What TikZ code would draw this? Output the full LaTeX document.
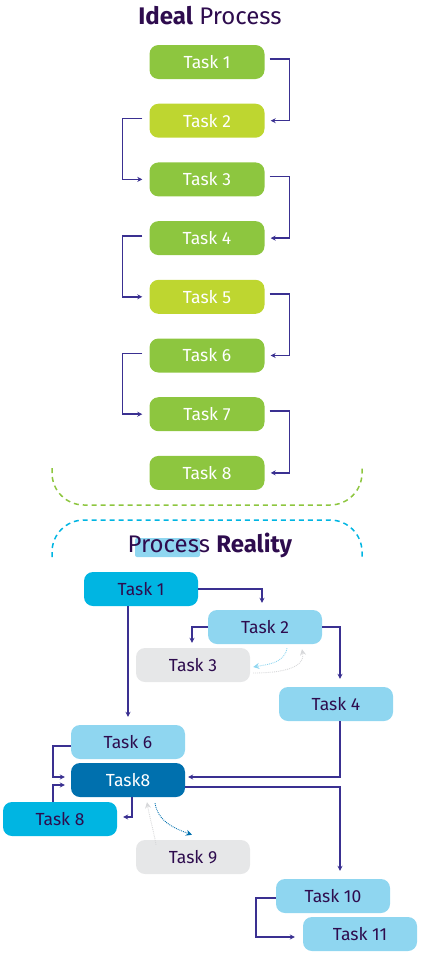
\documentclass[tikz,border=0pt]{standalone}
\usepackage{fontspec}
\setmainfont{Fira Sans}
\usetikzlibrary{arrows.meta,positioning}
\definecolor{leaf}{RGB}{141,198,63}
\definecolor{lime}{RGB}{190,214,48}
\definecolor{plum}{RGB}{46,12,78}
\definecolor{flowc}{RGB}{58,48,145}
\definecolor{cyanbox}{RGB}{0,181,226}
\definecolor{skybox}{RGB}{143,214,240}
\definecolor{deepbox}{RGB}{0,112,174}
\definecolor{greybox}{RGB}{230,231,232}
\definecolor{greyline}{RGB}{215,216,218}

\begin{document}
\begin{tikzpicture}[x=1pt,y=-1pt,>={Stealth[length=5pt,width=5pt]}, node distance=24.3pt,
  task/.style={rounded corners=9pt,minimum width=115pt,minimum height=34pt,inner sep=0pt,font=\fontsize{17.5}{20}\selectfont},
  ideal/.style={task,fill=leaf,text=white},
  idealb/.style={task,fill=lime,text=white},
  real/.style={task,minimum width=114pt,minimum height=34pt,text=plum},
  heading/.style={text=plum,font=\fontsize{24}{28}\selectfont},
  flow/.style={->,draw=flowc,line width=1.5pt},
  hint/.style={-{Stealth[length=6pt,width=6pt]},densely dotted,line width=0.9pt},
  arch/.style={dashed,dash pattern=on 5pt off 4pt,line width=1.5pt,rounded corners=32pt}]
\useasboundingbox (0,0) rectangle (422,953);

% ideal process
\node[heading] (ideal) at (210,16) {\textbf{Ideal} Process};
\node[ideal] (i1) at (207,62) {Task 1};
\node[idealb,below=of i1] (i2) {Task 2};
\node[ideal,below=of i2] (i3) {Task 3};
\node[ideal,below=of i3] (i4) {Task 4};
\node[idealb,below=of i4] (i5) {Task 5};
\node[ideal,below=of i5] (i6) {Task 6};
\node[ideal,below=of i6] (i7) {Task 7};
\node[ideal,below=of i7] (i8) {Task 8};

\foreach \a/\b in {i1/i2,i3/i4,i5/i6,i7/i8}
  \draw[flow] ([xshift=5pt,yshift=3pt]\a.east) -- ++(20,0) |- ([xshift=6pt]\b.east);
\foreach \a/\b in {i2/i3,i4/i5,i6/i7}
  \draw[flow] ([xshift=-7pt,yshift=2pt]\a.west) -- ++(-20,0) |- ([xshift=-7pt]\b.west);

% the two brackets
\draw[arch,draw=leaf] (52,468) -- (52,505) -- (362,505) -- (362,468);
\draw[arch,draw=cyanbox] (52,557) -- (52,520) -- (362,520) -- (362,557);

% process reality
\fill[skybox,rounded corners=2pt] (135,538) rectangle (200,557);
\node[heading] (reality) at (210,545) {Process \textbf{Reality}};
\node[real,fill=cyanbox] (r1) at (141,589) {Task 1};
\node[real,fill=skybox] (r2) at (265,627) {Task 2};
\node[real,fill=greybox] (r3) at (193,665) {Task 3};
\node[real,fill=skybox] (r4) at (336,704) {Task 4};
\node[real,fill=skybox] (r6) at (128,742) {Task 6};
\node[real,fill=deepbox,text=white] (r8) at (128,780) {Task8};
\node[real,fill=cyanbox] (r8b) at (60,819) {Task 8};
\node[real,fill=greybox] (r9) at (193,857) {Task 9};
\node[real,fill=skybox] (r10) at (333,896) {Task 10};
\node[real,fill=skybox] (r11) at (360,934) {Task 11};

\draw[flow] (r1.east) -| ([xshift=-3pt,yshift=7pt]r2.north);
\draw[flow] (r2.west) -| ([xshift=-1pt,yshift=5pt]r3.north);
\draw[flow] (r2.east) -| ([xshift=4pt,yshift=8pt]r4.north);
\draw[flow] (r6.north |- r1.south) -- ([yshift=8pt]r6.north);
\draw[flow] ([yshift=-4pt]r6.west) -- ++(-18,0) |- ([xshift=-6pt,yshift=3pt]r8.west);
\draw[flow] ([xshift=-7pt]r8b.north) |- ([xshift=-6pt,yshift=-5pt]r8.west);
\draw[flow] ([xshift=4pt]r8.south) |- ([xshift=6pt,yshift=2pt]r8b.east);
\draw[flow] ([xshift=4pt]r4.south) |- ([xshift=3pt,yshift=3pt]r8.east);
\draw[flow] ([yshift=-7pt]r8.east) -| ([xshift=7pt,yshift=8pt]r10.north);
\draw[flow] ([yshift=-2pt]r10.west) -- ++(-20,0) |- ([xshift=-8pt,yshift=-3pt]r11.west);

% loops that are only hinted
\draw[hint,skybox] ([xshift=22pt,yshift=-4pt]r2.south) to[out=-100,in=10] ([xshift=3pt,yshift=-2pt]r3.east);
\draw[hint,greyline] ([xshift=3pt,yshift=-8pt]r3.east) to[out=0,in=-80] ([xshift=37pt,yshift=-5pt]r2.south);
\draw[hint,greyline] ([xshift=-37pt,yshift=-5pt]r9.north) to[out=100,in=-80] ([xshift=19pt,yshift=-5pt]r8.south);
\draw[hint,deepbox] ([xshift=27pt,yshift=-6pt]r8.south) to[out=-80,in=160] ([xshift=-1pt,yshift=5pt]r9.north);
\end{tikzpicture}
\end{document}
